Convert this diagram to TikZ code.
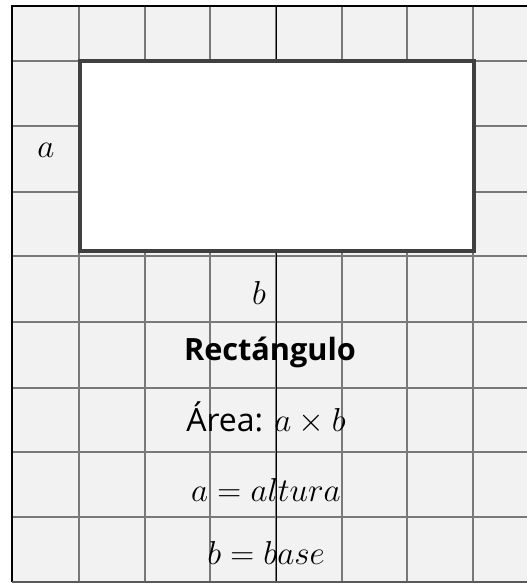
\documentclass[tikz,border=0pt]{standalone}
\usepackage{fontspec}
\setmainfont{Open Sans}
\newcommand{\mybigmath}[1]{{\fontsize{31}{32}\selectfont$#1$}}
\begin{document}
\begin{tikzpicture}[x=0.75pt,y=-0.75pt,
  gridline/.style={draw=gray!95!black,line width=1.3pt},
  lbl/.style={inner sep=0pt,font=\fontsize{24}{26}\selectfont},
  mlbl/.style={inner sep=0pt,font=\fontsize{31}{32}\selectfont},
  rectbox/.style={draw=black!75,line width=3pt,fill=white}]
\useasboundingbox (0,0) rectangle (527,585);
\fill[white] (0,0) rectangle (527,585);
\fill[black!5] (12,6) rectangle (527,582);
\begin{scope}
\clip (12,6) rectangle (527,582);
\foreach \x in {79,145,210,342,407,473}
  \draw[gridline] (\x,6) -- (\x,582);
\foreach \y in {61,126,192,256,322,388,452,517}
  \draw[gridline] (12,\y) -- (527,\y);
\draw[gridline] (276,6) -- (276,582);
\draw[black,line width=0.6pt] (276,6) -- (276,582);
\end{scope}
\draw[black,line width=1pt] (12,582) -- (12,6) -- (527,6);
\draw[gray!70!black,line width=1.2pt] (12,582) -- (527,582);
\node[rectbox,minimum width=394*0.75pt,minimum height=190*0.75pt,inner sep=0pt] (rect) at (277,156) {};
\node[mlbl,font=\fontsize{29}{30}\selectfont] (la) at (46,150) {$a$};
\node[mlbl,font=\fontsize{29}{30}\selectfont] (lb) at (259,293) {$b$};
\node[lbl,font=\fontsize{23}{25}\selectfont\bfseries] (title) at (270,352) {Rectángulo};
\node[lbl] (area) at (266,418) {Área: \mybigmath{a\times b}};
\node[mlbl] (alt) at (266,490) {$a=altura$};
\node[mlbl] (base) at (266,553) {$b=base$};
\end{tikzpicture}
\end{document}
